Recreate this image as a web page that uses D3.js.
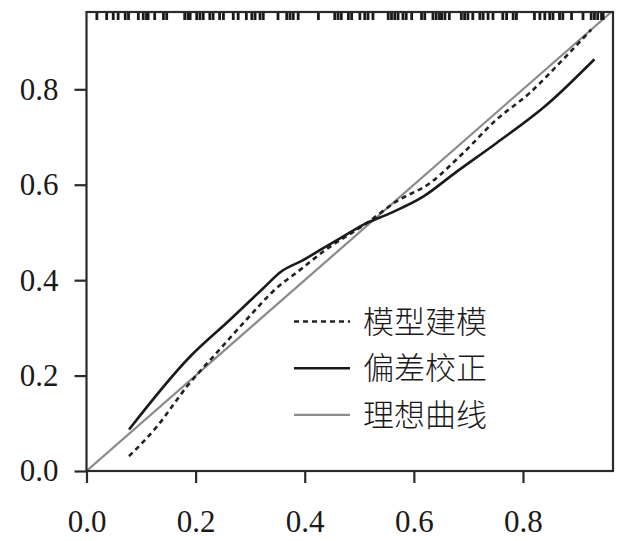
<!DOCTYPE html>
<html>
<head>
<meta charset="utf-8">
<script src="https://cdn.jsdelivr.net/npm/d3@7"></script>
<style>
  body { margin: 0; background: #fff; }
  svg { display: block; }
</style>
</head>
<body>
<svg id="chart" width="623" height="541"></svg>
<script>
// predicted probabilities shown as a rug along the top
const rugValues = [0.019, 0.037, 0.049, 0.058, 0.071, 0.077, 0.095, 0.104, 0.110, 0.113,
    0.125, 0.141, 0.147, 0.180, 0.186, 0.190, 0.202, 0.208, 0.214, 0.226, 0.232, 0.244,
    0.251, 0.269, 0.278, 0.293, 0.303, 0.309, 0.318, 0.324, 0.351, 0.367, 0.373, 0.379,
    0.388, 0.425, 0.455, 0.461, 0.467, 0.480, 0.486, 0.501, 0.510, 0.516, 0.525, 0.553,
    0.559, 0.565, 0.571, 0.580, 0.586, 0.596, 0.614, 0.620, 0.635, 0.641, 0.647, 0.651,
    0.657, 0.665, 0.687, 0.693, 0.699, 0.708, 0.721, 0.727, 0.736, 0.745, 0.763, 0.770,
    0.782, 0.788, 0.821, 0.831, 0.840, 0.849, 0.855, 0.867, 0.873, 0.889, 0.910, 0.925,
    0.931, 0.937, 0.944, 0.947];

// apparent calibration (dashed)
const apparentX = [0.078, 0.129, 0.184, 0.238, 0.293, 0.348, 0.391, 0.434, 0.513, 0.568, 0.629, 0.690, 0.751, 0.812, 0.873, 0.925];
const apparentY = [0.031, 0.093, 0.177, 0.247, 0.317, 0.383, 0.421, 0.460, 0.519, 0.565, 0.603, 0.666, 0.736, 0.792, 0.862, 0.925];

// bias-corrected calibration (solid)
const correctedX = [0.078, 0.190, 0.263, 0.324, 0.357, 0.397, 0.434, 0.470, 0.507, 0.556, 0.617, 0.678, 0.751, 0.843, 0.931];
const correctedY = [0.087, 0.240, 0.317, 0.383, 0.418, 0.442, 0.467, 0.491, 0.516, 0.540, 0.575, 0.627, 0.687, 0.767, 0.863];

// ideal line
const idealX = [0, 1];
const idealY = [0, 1];

const tickValues = [0, 0.2, 0.4, 0.6, 0.8];
const legendLabels = ["模型建模", "偏差校正", "理想曲线"];

const svg = d3.select("#chart");
const margin = { left: 86.5, top: 12, right: 10, bottom: 70 };
const width = 623 - margin.left - margin.right;
const height = 541 - margin.top - margin.bottom;

const x = d3.scaleLinear().domain([0, 0.965]).range([0, width]);
const y = d3.scaleLinear().domain([0, 0.962]).range([height, 0]);

const g = svg.append("g").attr("transform", `translate(${margin.left},${margin.top})`);

const defs = svg.append("defs");
defs.append("clipPath").attr("id", "clip")
    .append("rect").attr("width", width).attr("height", height);

const toPoints = (xs, ys) => xs.map((v, i) => [v, ys[i]]);
const line = d3.line()
    .x(d => x(d[0]))
    .y(d => y(d[1]))
    .curve(d3.curveMonotoneX);

const plot = g.append("g").attr("clip-path", "url(#clip)");

plot.append("path")
    .datum(toPoints(idealX, idealY))
    .attr("d", d3.line().x(d => x(d[0])).y(d => y(d[1])))
    .attr("fill", "none")
    .attr("stroke", "#8a8a8a")
    .attr("stroke-width", 2.2);

plot.append("path")
    .datum(toPoints(apparentX, apparentY))
    .attr("d", line)
    .attr("fill", "none")
    .attr("stroke", "#222")
    .attr("stroke-width", 2.6)
    .attr("stroke-dasharray", "5,4");

plot.append("path")
    .datum(toPoints(correctedX, correctedY))
    .attr("d", line)
    .attr("fill", "none")
    .attr("stroke", "#1a1a1a")
    .attr("stroke-width", 2.6);

// rug
g.selectAll("line.rug")
    .data(rugValues)
    .enter()
    .append("line")
    .attr("class", "rug")
    .attr("x1", d => x(d))
    .attr("x2", d => x(d))
    .attr("y1", 0)
    .attr("y2", 8)
    .attr("stroke", "#1a1a1a")
    .attr("stroke-width", 2.8);

// frame
g.append("rect")
    .attr("width", width)
    .attr("height", height)
    .attr("fill", "none")
    .attr("stroke", "#2a2a2a")
    .attr("stroke-width", 2.2);

const tickFont = "'Liberation Serif', 'Times New Roman', serif";

const xAxis = g.append("g")
    .attr("transform", `translate(0,${height})`)
    .call(d3.axisBottom(x).tickValues(tickValues).tickFormat(d3.format(".1f")).tickSize(12).tickPadding(27));

const yAxis = g.append("g")
    .call(d3.axisLeft(y).tickValues(tickValues).tickFormat(d3.format(".1f")).tickSize(12).tickPadding(16));

[xAxis, yAxis].forEach(ax => {
    ax.select(".domain").remove();
    ax.selectAll(".tick line").attr("stroke", "#2a2a2a").attr("stroke-width", 2.2);
    ax.selectAll(".tick text")
        .attr("fill", "#1a1a1a")
        .style("font-family", tickFont)
        .style("font-size", "31px");
});

// legend
const legend = svg.append("g");
const legendStyles = [
    { stroke: "#222", width: 2.6, dash: "5,4" },
    { stroke: "#1a1a1a", width: 2.6, dash: null },
    { stroke: "#8a8a8a", width: 2.2, dash: null }
];
legendLabels.forEach((label, i) => {
    const ly = 321.5 + i * 46.7;
    legend.append("line")
        .attr("x1", 294).attr("x2", 350)
        .attr("y1", ly).attr("y2", ly)
        .attr("stroke", legendStyles[i].stroke)
        .attr("stroke-width", legendStyles[i].width)
        .attr("stroke-dasharray", legendStyles[i].dash);
    legend.append("text")
        .attr("x", 363)
        .attr("y", ly)
        .attr("dy", "0.36em")
        .attr("fill", "#1a1a1a")
        .style("font-family", "'Noto Sans CJK SC', sans-serif")
        .style("font-size", "31px")
        .style("font-weight", 300)
        .text(label);
});
</script>
</body>
</html>
